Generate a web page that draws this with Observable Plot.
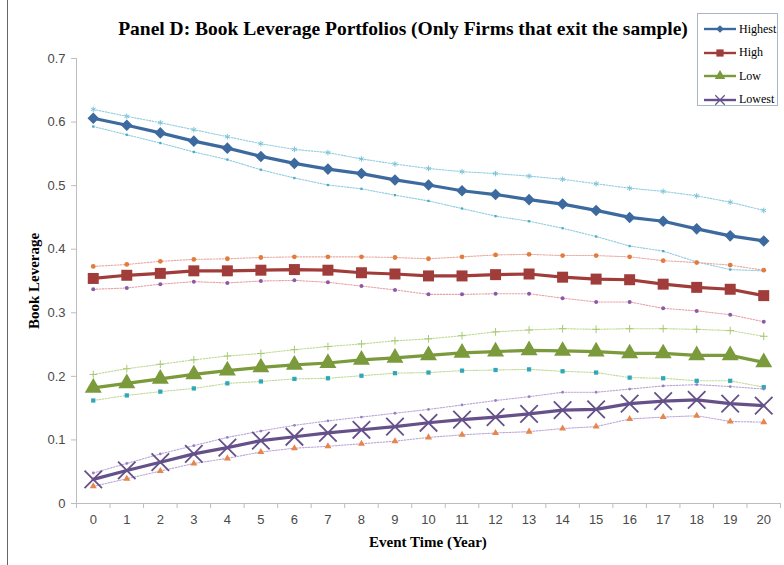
<!DOCTYPE html>
<html><head><meta charset="utf-8">
<script src="https://cdn.jsdelivr.net/npm/d3@7"></script>
<script src="https://cdn.jsdelivr.net/npm/@observablehq/plot@0.6"></script>
<style>
body{margin:0;background:#fff;}
#wrap{position:relative;width:784px;height:565px;overflow:hidden;background:#fff;}
#chart{position:absolute;left:0;top:0;}
#title{position:absolute;left:0;width:806px;top:18px;text-align:center;font:bold 19.5px "Liberation Serif",serif;color:#000;white-space:nowrap;}
#ylab{position:absolute;left:34px;top:281px;transform:translate(-50%,-50%) rotate(-90deg);font:bold 15px "Liberation Serif",serif;white-space:nowrap;}
#xlab{position:absolute;left:0;width:856px;top:534px;text-align:center;font:bold 15px "Liberation Serif",serif;}
#legend{position:absolute;left:697px;top:13px;width:81px;height:93px;border:1px solid #a9b6c9;background:#fff;box-sizing:border-box;}
.lg{position:absolute;left:6px;height:14px;display:flex;align-items:center;font:12px "Liberation Serif",serif;}
.lg svg{margin-right:3px;}
#bl{position:absolute;left:7px;top:0;width:1px;height:565px;background:#666;}
</style></head>
<body>
<div id="wrap">
  <div id="chart"></div>
  <div id="bl"></div>
  <div id="title">Panel D: Book Leverage Portfolios (Only Firms that exit the sample)</div>
  <div id="ylab">Book Leverage</div>
  <div id="xlab">Event Time (Year)</div>
  <div id="legend"></div>
</div>
<script>
const years = [0,1,2,3,4,5,6,7,8,9,10,11,12,13,14,15,16,17,18,19,20];
const yTicks = [0,0.1,0.2,0.3,0.4,0.5,0.6,0.7];
const seriesNames = ["Highest","High","Low","Lowest"];

const highest      = [0.606,0.595,0.583,0.570,0.559,0.546,0.535,0.526,0.519,0.509,0.501,0.492,0.486,0.478,0.471,0.461,0.450,0.444,0.432,0.421,0.413];
const highestUpper = [0.620,0.609,0.599,0.588,0.577,0.566,0.557,0.552,0.542,0.534,0.527,0.522,0.519,0.515,0.510,0.503,0.496,0.491,0.484,0.474,0.461];
const highestLower = [0.593,0.580,0.567,0.553,0.541,0.525,0.512,0.501,0.495,0.485,0.476,0.464,0.452,0.444,0.433,0.420,0.405,0.397,0.380,0.368,0.366];

const high      = [0.354,0.359,0.362,0.366,0.366,0.367,0.368,0.367,0.363,0.361,0.358,0.358,0.360,0.361,0.356,0.353,0.352,0.345,0.340,0.337,0.327];
const highUpper = [0.373,0.376,0.381,0.384,0.385,0.387,0.388,0.388,0.388,0.387,0.385,0.388,0.391,0.392,0.390,0.390,0.388,0.382,0.379,0.375,0.367];
const highLower = [0.337,0.339,0.345,0.349,0.347,0.350,0.351,0.348,0.342,0.336,0.329,0.329,0.330,0.330,0.323,0.317,0.317,0.307,0.303,0.297,0.286];

const low      = [0.182,0.189,0.196,0.203,0.209,0.214,0.218,0.221,0.226,0.229,0.233,0.237,0.239,0.241,0.240,0.239,0.236,0.236,0.233,0.233,0.222];
const lowUpper = [0.203,0.212,0.219,0.226,0.232,0.236,0.242,0.247,0.251,0.256,0.259,0.264,0.270,0.273,0.275,0.274,0.275,0.275,0.274,0.272,0.263];
const lowLower = [0.162,0.170,0.176,0.181,0.189,0.192,0.196,0.197,0.201,0.205,0.206,0.209,0.210,0.211,0.208,0.206,0.198,0.197,0.193,0.193,0.183];

const lowest      = [0.038,0.052,0.065,0.078,0.088,0.099,0.105,0.111,0.116,0.121,0.127,0.132,0.136,0.141,0.147,0.148,0.157,0.161,0.163,0.157,0.154];
const lowestUpper = [0.048,0.063,0.078,0.091,0.104,0.114,0.123,0.130,0.136,0.142,0.148,0.155,0.162,0.168,0.175,0.175,0.180,0.185,0.187,0.184,0.180];
const lowestLower = [0.027,0.039,0.051,0.063,0.071,0.081,0.087,0.090,0.094,0.098,0.104,0.108,0.111,0.113,0.118,0.121,0.133,0.136,0.138,0.129,0.128];

const toRows = arr => years.map((x,i)=>({x, y: arr[i]}));

// styles (kept separate from data)
const mainStyles = [
  {name:"Highest", data:highest, color:"#3d6a9e", symbol:"diamond2", r:5.2, filled:true},
  {name:"High",    data:high,    color:"#a03d3a", symbol:"square",   r:6.2, filled:true},
  {name:"Low",     data:low,     color:"#7a9a3c", symbol:"triangle", r:6.3, filled:true},
  {name:"Lowest",  data:lowest,  color:"#65508a", symbol:"times",    r:8,   filled:false}
];
const ciStyles = [
  {data:highestUpper, line:"#8fcde0", mark:"#7cc3d8", symbol:"asterisk", r:2.6, filled:false},
  {data:highestLower, line:"#8fcde0", mark:"#4baac4", symbol:"square",   r:1.3, filled:true},
  {data:highUpper,    line:"#eaa99f", mark:"#e07c3e", symbol:"circle",   r:2.4, filled:true},
  {data:highLower,    line:"#e8a3a8", mark:"#8a5aa6", symbol:"circle",   r:2.0, filled:true},
  {data:lowUpper,     line:"#c0da96", mark:"#a6c973", symbol:"plus",     r:2.6, filled:false},
  {data:lowLower,     line:"#c0da96", mark:"#2fa7ba", symbol:"square",   r:2.4, filled:true},
  {data:lowestUpper,  line:"#bba7d6", mark:"#9a7fc0", symbol:"circle",   r:1.4, filled:true},
  {data:lowestLower,  line:"#bba7d6", mark:"#e8854a", symbol:"triangle", r:2.6, filled:true}
];

const bounds = years.map(d=>d-0.5).concat([years[years.length-1]+0.5]);

const marks = [
  Plot.ruleX([bounds[0]], {stroke:"#bdbdbd"}),
  Plot.ruleY([0], {stroke:"#bdbdbd"}),
  Plot.axisY({ticks:yTicks, tickSize:5, tickPadding:6, stroke:"#bdbdbd", fill:"#4a4a4a", fontSize:13,
    tickFormat: d => d === 0 ? "0" : d.toFixed(1), label:null}),
  Plot.axisX({ticks:years, tickSize:0, tickPadding:11, fill:"#4a4a4a", fontSize:13, tickFormat: d=>String(d), label:null}),
  Plot.axisX({ticks:bounds, tickSize:5, stroke:"#bdbdbd", tickFormat: ()=>"", label:null})
];
for (const s of ciStyles) {
  marks.push(Plot.line(toRows(s.data), {x:"x", y:"y", stroke:s.line, strokeWidth:1.1, strokeDasharray:"1.6,1.4"}));
}
for (const s of ciStyles) {
  marks.push(Plot.dot(toRows(s.data), {x:"x", y:"y", symbol:s.symbol, r:s.r,
    fill: s.filled ? s.mark : "none", stroke: s.filled ? "none" : s.mark, strokeWidth:1}));
}
for (const s of mainStyles) {
  marks.push(Plot.line(toRows(s.data), {x:"x", y:"y", stroke:s.color, strokeWidth:3.2}));
}
for (const s of mainStyles) {
  marks.push(Plot.dot(toRows(s.data), {x:"x", y:"y", symbol:s.symbol, r:s.r,
    fill: s.filled ? s.color : "none", stroke: s.filled ? "none" : s.color, strokeWidth:1.8}));
}

const chart = Plot.plot({
  width:784, height:565,
  marginLeft:76, marginRight:4, marginTop:58, marginBottom:62,
  x:{domain:[bounds[0], bounds[bounds.length-1]], axis:null},
  y:{domain:[0,0.7], axis:null},
  style:{fontFamily:"'Liberation Sans', Arial, sans-serif", background:"transparent"},
  marks
});
document.getElementById("chart").appendChild(chart);

// legend
const legend = document.getElementById("legend");
const legendSizes = {diamond2:38, square:52, triangle:48, times:60};
mainStyles.forEach((s,i)=>{
  const div = document.createElement("div");
  div.className = "lg";
  div.style.top = (8 + i*23.5) + "px";
  const svg = d3.create("svg").attr("width",32).attr("height",12);
  svg.append("line").attr("x1",0).attr("x2",32).attr("y1",6).attr("y2",6).attr("stroke",s.color).attr("stroke-width",2.4);
  const sym = {diamond2:d3.symbolDiamond2, square:d3.symbolSquare, triangle:d3.symbolTriangle, times:d3.symbolTimes}[s.symbol];
  svg.append("path").attr("transform","translate(16,6)")
    .attr("d", d3.symbol(sym, legendSizes[s.symbol])())
    .attr("fill", s.filled ? s.color : "none").attr("stroke", s.filled ? "none" : s.color).attr("stroke-width",1.2);
  div.appendChild(svg.node());
  const t = document.createElement("span"); t.textContent = s.name;
  div.appendChild(t);
  legend.appendChild(div);
});
</script>
</body></html>
